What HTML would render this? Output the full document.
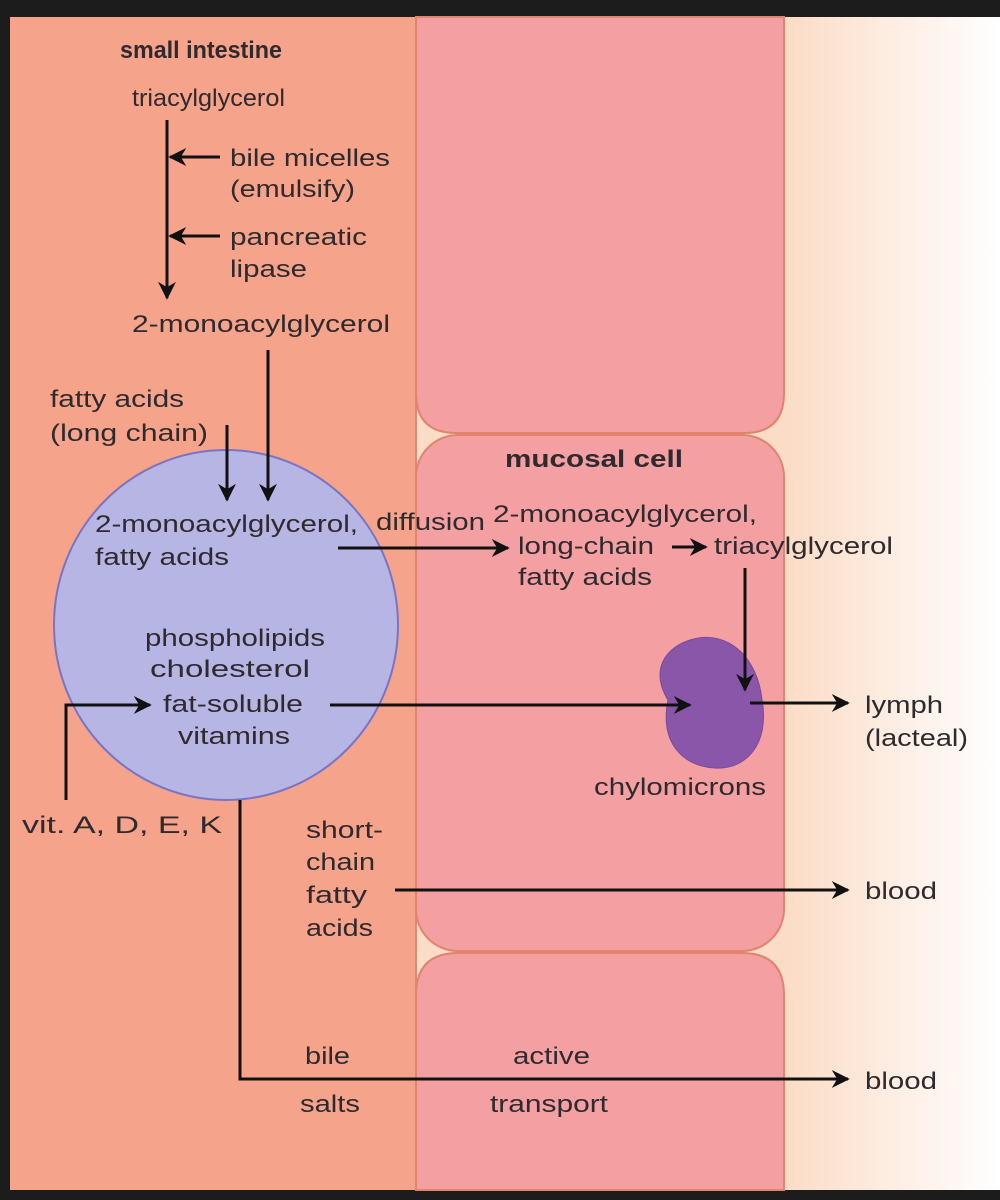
<!DOCTYPE html>
<html><head><style>
html,body{margin:0;padding:0;background:#1c1c1c;}
svg{display:block;}
text{font-family:"Liberation Sans",Arial,sans-serif;font-size:24px;fill:#2e2a2e;}
</style></head><body>
<svg width="1000" height="1200" viewBox="0 0 1000 1200" xmlns="http://www.w3.org/2000/svg">
<defs>
<linearGradient id="rg" x1="0" x2="1" y1="0" y2="0">
<stop offset="0" stop-color="#fbdcc6"/><stop offset="1" stop-color="#ffffff"/>
</linearGradient>
<marker id="a" viewBox="0 0 10 10" refX="9" refY="5" markerWidth="6" markerHeight="6" orient="auto">
<path d="M0,0 L10,5 L0,10 L3,5 z" fill="#111"/>
</marker>
</defs>
<rect x="0" y="0" width="1000" height="1200" fill="#1c1c1c"/>
<rect x="10" y="17" width="990" height="1173" fill="#f5a38a"/>
<rect x="416" y="17" width="584" height="1173" fill="#fbdcc6"/>
<rect x="785" y="17" width="215" height="1173" fill="url(#rg)"/>
<line x1="416" y1="17" x2="416" y2="1190" stroke="#d88a78" stroke-width="2"/>
<path d="M416,17 H784 V393 Q784,433 744,433 H456 Q416,433 416,393 Z" fill="#f4a0a2" stroke="#e0846e" stroke-width="2"/>
<rect x="416" y="435" width="368" height="516" rx="42" fill="#f4a0a2" stroke="#e0846e" stroke-width="2"/>
<path d="M416,1190 V995 Q416,953 458,953 H742 Q784,953 784,995 V1190 Z" fill="#f4a0a2" stroke="#e0846e" stroke-width="2"/>
<ellipse cx="226" cy="625" rx="172" ry="175" fill="#b7b5e4" stroke="#7a74c4" stroke-width="2"/>
<path d="M690,640 C730,628 758,660 762,700 C770,745 745,770 715,768 C680,766 660,740 668,700 C650,670 665,648 690,640 Z" fill="#8a56aa" stroke="#7a489a" stroke-width="1"/>
<g stroke="#111" stroke-width="3" fill="none">
<line x1="167" y1="120" x2="167" y2="298" marker-end="url(#a)"/>
<line x1="220" y1="157" x2="170" y2="157" marker-end="url(#a)"/>
<line x1="220" y1="236" x2="170" y2="236" marker-end="url(#a)"/>
<line x1="268" y1="350" x2="268" y2="500" marker-end="url(#a)"/>
<line x1="227" y1="425" x2="227" y2="500" marker-end="url(#a)"/>
<line x1="338" y1="548" x2="508" y2="548" marker-end="url(#a)"/>
<line x1="672" y1="547" x2="706" y2="547" marker-end="url(#a)"/>
<line x1="745" y1="568" x2="745" y2="690" marker-end="url(#a)"/>
<line x1="330" y1="705" x2="690" y2="705" marker-end="url(#a)"/>
<polyline points="66,800 66,705 150,705" marker-end="url(#a)"/>
<line x1="750" y1="703" x2="848" y2="703" marker-end="url(#a)"/>
<line x1="395" y1="890" x2="848" y2="890" marker-end="url(#a)"/>
<polyline points="240,800 240,1079 848,1079" marker-end="url(#a)"/>
</g>
<g>
<text x="120" y="58" font-weight="bold" textLength="162" lengthAdjust="spacingAndGlyphs">small intestine</text>
<text x="132" y="106" textLength="153" lengthAdjust="spacingAndGlyphs">triacylglycerol</text>
<text x="230" y="166" textLength="160" lengthAdjust="spacingAndGlyphs">bile micelles</text>
<text x="230" y="197" textLength="125" lengthAdjust="spacingAndGlyphs">(emulsify)</text>
<text x="230" y="245" textLength="137" lengthAdjust="spacingAndGlyphs">pancreatic</text>
<text x="230" y="277" textLength="77" lengthAdjust="spacingAndGlyphs">lipase</text>
<text x="132" y="332" textLength="258" lengthAdjust="spacingAndGlyphs">2-monoacylglycerol</text>
<text x="50" y="407" textLength="134" lengthAdjust="spacingAndGlyphs">fatty acids</text>
<text x="50" y="441" textLength="158" lengthAdjust="spacingAndGlyphs">(long chain)</text>
<text x="95" y="532" textLength="263" lengthAdjust="spacingAndGlyphs">2-monoacylglycerol,</text>
<text x="95" y="565" textLength="134" lengthAdjust="spacingAndGlyphs">fatty acids</text>
<text x="376" y="530" textLength="109" lengthAdjust="spacingAndGlyphs">diffusion</text>
<text x="505" y="467" font-weight="bold" textLength="178" lengthAdjust="spacingAndGlyphs">mucosal cell</text>
<text x="493" y="522" textLength="264" lengthAdjust="spacingAndGlyphs">2-monoacylglycerol,</text>
<text x="518" y="554" textLength="136" lengthAdjust="spacingAndGlyphs">long-chain</text>
<text x="518" y="585" textLength="134" lengthAdjust="spacingAndGlyphs">fatty acids</text>
<text x="714" y="554" textLength="179" lengthAdjust="spacingAndGlyphs">triacylglycerol</text>
<text x="145" y="646" textLength="180" lengthAdjust="spacingAndGlyphs">phospholipids</text>
<text x="150" y="677" textLength="160" lengthAdjust="spacingAndGlyphs">cholesterol</text>
<text x="163" y="712" textLength="140" lengthAdjust="spacingAndGlyphs">fat-soluble</text>
<text x="178" y="744" textLength="112" lengthAdjust="spacingAndGlyphs">vitamins</text>
<text x="865" y="713" textLength="78" lengthAdjust="spacingAndGlyphs">lymph</text>
<text x="865" y="746" textLength="103" lengthAdjust="spacingAndGlyphs">(lacteal)</text>
<text x="594" y="795" textLength="172" lengthAdjust="spacingAndGlyphs">chylomicrons</text>
<text x="22" y="833" textLength="200" lengthAdjust="spacingAndGlyphs">vit. A, D, E, K</text>
<text x="306" y="838" textLength="77" lengthAdjust="spacingAndGlyphs">short-</text>
<text x="306" y="870" textLength="69" lengthAdjust="spacingAndGlyphs">chain</text>
<text x="306" y="903" textLength="61" lengthAdjust="spacingAndGlyphs">fatty</text>
<text x="306" y="936" textLength="67" lengthAdjust="spacingAndGlyphs">acids</text>
<text x="865" y="899" textLength="72" lengthAdjust="spacingAndGlyphs">blood</text>
<text x="305" y="1064" textLength="45" lengthAdjust="spacingAndGlyphs">bile</text>
<text x="300" y="1112" textLength="60" lengthAdjust="spacingAndGlyphs">salts</text>
<text x="513" y="1064" textLength="77" lengthAdjust="spacingAndGlyphs">active</text>
<text x="490" y="1112" textLength="118" lengthAdjust="spacingAndGlyphs">transport</text>
<text x="865" y="1089" textLength="72" lengthAdjust="spacingAndGlyphs">blood</text>
</g>
</svg>
</body></html>
